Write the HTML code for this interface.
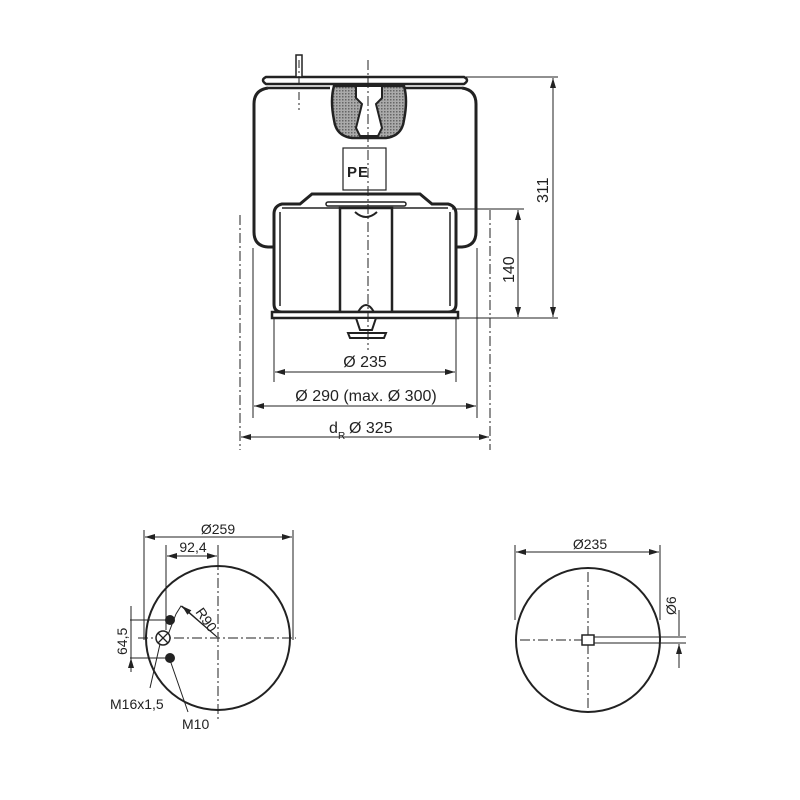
<!DOCTYPE html>
<html><head><meta charset="utf-8"><style>
html,body{margin:0;padding:0;background:#fff}
svg{display:block}
text{font-family:"Liberation Sans",sans-serif;fill:#222}
</style></head><body>
<svg width="800" height="800" viewBox="0 0 800 800" xmlns="http://www.w3.org/2000/svg">
<defs>
<marker id="a" viewBox="0 0 10 6" refX="10" refY="3" markerWidth="10" markerHeight="6" orient="auto-start-reverse" markerUnits="userSpaceOnUse"><path d="M0,0 L10,3 L0,6z" fill="#222"/></marker>
<pattern id="g" width="3" height="3" patternUnits="userSpaceOnUse"><rect width="3" height="3" fill="#aaa"/><rect width="1.5" height="1.5" fill="#666"/></pattern>
</defs>
<g stroke="#222" fill="none">
<path d="M266,77 L464,77 Q470,80 464,84 L266,84 Q260,80 266,77Z" stroke-width="2.5" fill="#fff"/>
<rect x="296" y="55" width="6" height="22" stroke-width="1.5" fill="#fff"/>
<path d="M268,88 Q254,90 254,104 L254,232 Q254,246 268,247 L275,247" stroke-width="3"/>
<path d="M462,88 Q476,90 476,104 L476,232 Q476,246 462,247 L456,247" stroke-width="3"/>
<path d="M268,88 L330,88 M400,88 L462,88" stroke-width="2.5"/>
<path d="M334,86 Q330,100 334,120 Q336,136 352,138 L386,138 Q402,136 404,120 Q408,100 404,86 Z" fill="url(#g)" stroke-width="2.5"/>
<path d="M356,86 L382,86 L382,98 L376,104 L382,128 L378,136 L360,136 L356,128 L362,104 L356,98 Z" fill="#fff" stroke-width="2"/>
<rect x="343" y="148" width="43" height="42" stroke-width="1.2" fill="#fff"/>
<path d="M312,194 L420,194 L432,204 L448,204 Q456,206 456,214 L456,304 Q456,312 448,312 L282,312 Q274,312 274,304 L274,214 Q274,206 282,204 L300,204 Z" stroke-width="3" fill="#fff"/>
<path d="M280,212 L280,306 M450,212 L450,306 M282,208 L448,208" stroke-width="1.5"/>
<rect x="326" y="202" width="80" height="4" rx="2" stroke-width="1.5"/>
<rect x="340" y="208" width="52" height="104" stroke-width="2.5" fill="#fff"/>
<path d="M272,312 L458,312 L458,318 L272,318 Z" stroke-width="2.5" fill="#fff"/>
<path d="M355,212 Q366,222 377,212" stroke-width="2"/>
<path d="M358,312 Q366,298 374,312" stroke-width="2"/>
<path d="M356,318 L376,318 L372,330 L360,330 Z" stroke-width="2" fill="#fff"/>
<path d="M348,333 L386,333 L384,338 L350,338 Z" stroke-width="2" fill="#fff"/>
<path d="M368,60 L368,350" stroke-width="1" stroke-dasharray="10,3,2,3"/>
<path d="M299,60 L299,110" stroke-width="1" stroke-dasharray="8,3,2,3"/>
<g stroke-width="1">
<path d="M240,215 L240,450" stroke-dasharray="10,3,2,3"/>
<path d="M490,210 L490,450" stroke-dasharray="10,3,2,3"/>
<path d="M253,248 L253,418"/>
<path d="M477,248 L477,418"/>
<path d="M274,318 L274,382"/>
<path d="M456,318 L456,382"/>
<path d="M466,77 L558,77"/>
<path d="M452,209 L524,209"/>
<path d="M458,318 L558,318"/>
</g>
<g stroke-width="1" marker-start="url(#a)" marker-end="url(#a)">
<path d="M275,372 L455,372"/>
<path d="M254,406 L476,406"/>
<path d="M241,437 L489,437"/>
<path d="M553,78 L553,317"/>
<path d="M518,210 L518,317"/>
</g>
</g>
<text x="347" y="177" font-size="15" font-weight="bold" letter-spacing="1">PE</text>
<text x="365" y="367" font-size="16" text-anchor="middle">Ø 235</text>
<text x="366" y="401" font-size="16" text-anchor="middle">Ø 290 (max. Ø 300)</text>
<text x="329" y="433" font-size="16">d</text><text x="338" y="439" font-size="10">R</text>
<text x="349" y="433" font-size="16">Ø 325</text>
<text font-size="16" transform="translate(548,203) rotate(-90)">311</text>
<text font-size="16" transform="translate(514,283) rotate(-90)">140</text>

<g stroke="#222" fill="none">
<circle cx="218" cy="638" r="72" stroke-width="2"/>
<path d="M138,638 L296,638 M218,560 L218,720" stroke-width="1" stroke-dasharray="10,3,2,3"/>
<path d="M144,530 L144,640 M293,530 L293,640 M166,545 L166,630 M218,545 L218,565" stroke-width="1"/>
<path d="M145,537 L292,537" stroke-width="1" marker-start="url(#a)" marker-end="url(#a)"/>
<path d="M167,556 L217,556" stroke-width="1" marker-start="url(#a)" marker-end="url(#a)"/>
<path d="M130,620 L166,620 M130,658 L166,658" stroke-width="1"/>
<path d="M131,606 L131,620 M131,672 L131,658" stroke-width="1" marker-end="url(#a)"/>
<path d="M131,606 L131,672" stroke-width="1"/>
<path d="M217,637 L181,606 L176,614 M176,614 L166,640" stroke-width="1"/>
<path d="M216,636 L182,606" stroke-width="1" marker-end="url(#a)"/>
<circle cx="163" cy="638" r="7" stroke-width="1.5" fill="#fff"/>
<path d="M158,633 L168,643 M168,633 L158,643" stroke-width="1.3"/>
<path d="M160,644 L150,688 M170,660 L188,712" stroke-width="1"/>
</g>
<circle cx="170" cy="620" r="5" fill="#222"/>
<circle cx="170" cy="658" r="5" fill="#222"/>
<text x="218" y="534" font-size="14" text-anchor="middle">Ø259</text>
<text x="193" y="552" font-size="14" text-anchor="middle">92,4</text>
<text font-size="14" transform="translate(195,612) rotate(55)">R90</text>
<text font-size="14" transform="translate(127,655) rotate(-90)">64,5</text>
<text x="110" y="709" font-size="14">M16x1,5</text>
<text x="182" y="729" font-size="14">M10</text>

<g stroke="#222" fill="none">
<circle cx="588" cy="640" r="72" stroke-width="2"/>
<path d="M520,640 L580,640 M588,572 L588,708" stroke-width="1" stroke-dasharray="10,3,2,3"/>
<path d="M515,545 L515,620 M660,545 L660,620" stroke-width="1"/>
<path d="M516,552 L659,552" stroke-width="1" marker-start="url(#a)" marker-end="url(#a)"/>
<rect x="582" y="635" width="12" height="10" stroke-width="1.5" fill="#fff"/>
<path d="M594,637 L686,637 M594,643 L686,643 M578,640 L582,640" stroke-width="1"/>
<path d="M679,610 L679,636 M679,668 L679,644" stroke-width="1" marker-end="url(#a)"/>
</g>
<text x="590" y="549" font-size="14" text-anchor="middle">Ø235</text>
<text font-size="14" transform="translate(676,615) rotate(-90)">Ø6</text>
</svg>
</body></html>
